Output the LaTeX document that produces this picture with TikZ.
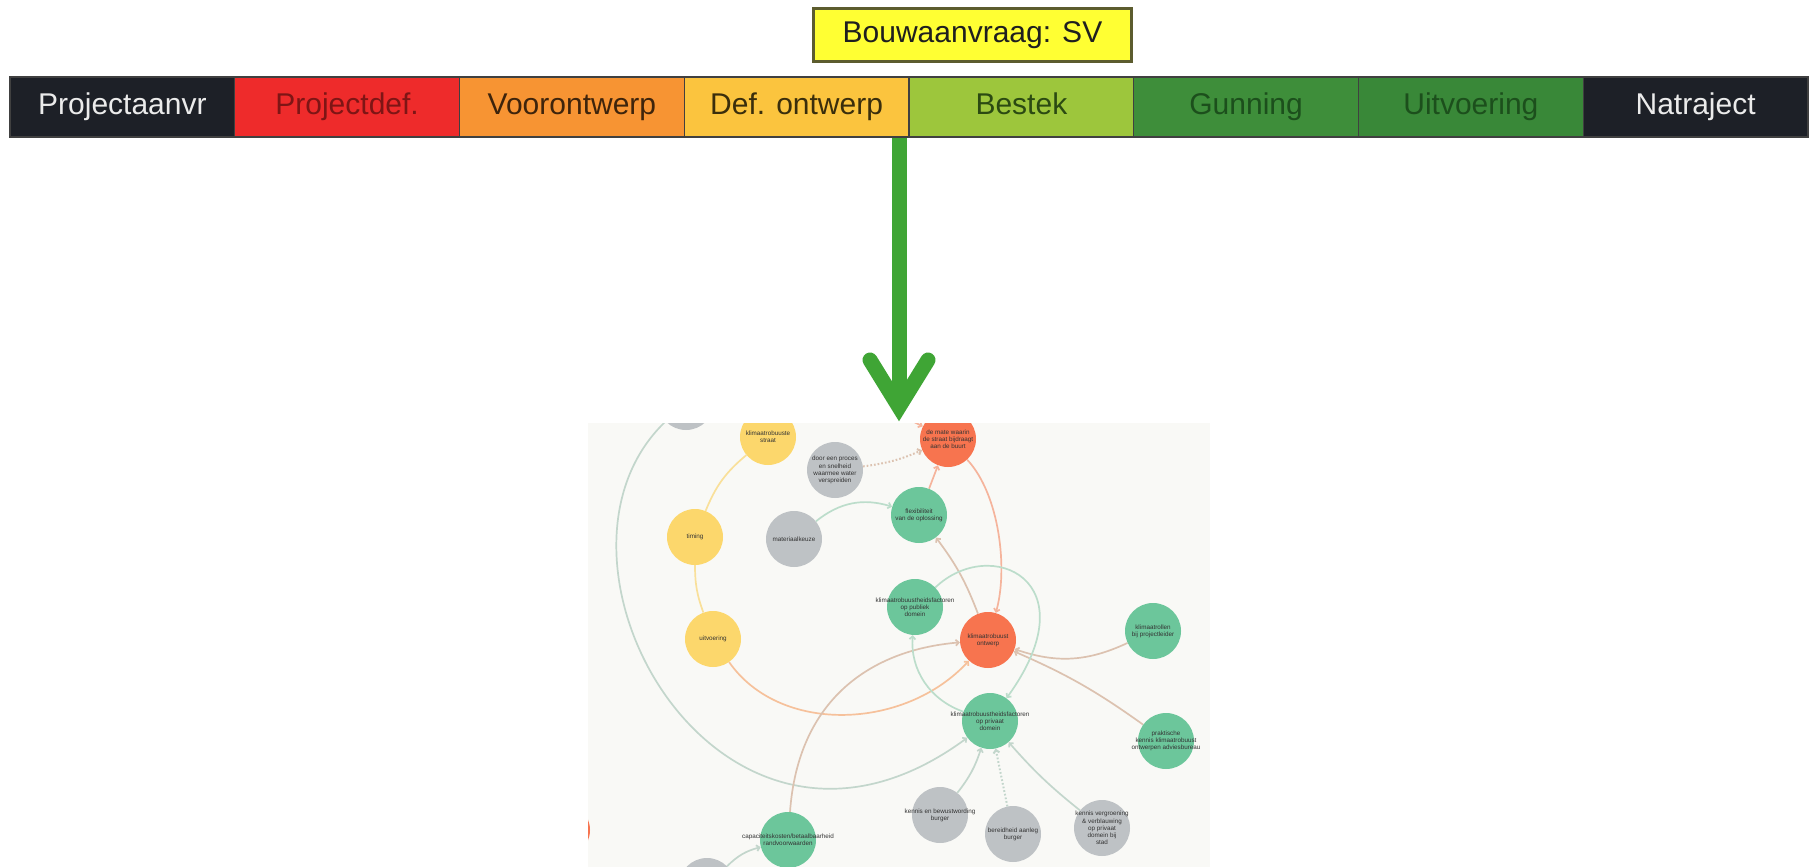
\documentclass[tikz,border=0pt]{standalone}
\usepackage{fontspec}
\setmainfont{Liberation Sans}
\usetikzlibrary{arrows.meta,backgrounds}
\definecolor{cNavy}{HTML}{1D2027}
\definecolor{cRed}{HTML}{EE2B2B}
\definecolor{cOrange}{HTML}{F79433}
\definecolor{cGold}{HTML}{FBC43E}
\definecolor{cLime}{HTML}{9DC63C}
\definecolor{cGreen}{HTML}{3E8E3A}
\definecolor{cGreenB}{HTML}{398838}
\definecolor{cBox}{HTML}{FFFF33}
\definecolor{cBoxLine}{HTML}{5C5C2E}
\definecolor{cArrow}{HTML}{3FA535}
\definecolor{cPanel}{HTML}{F9F9F6}
\definecolor{tRed}{HTML}{7E1515}
\definecolor{tBrown}{HTML}{3E240C}
\definecolor{tGold}{HTML}{3A2E0C}
\definecolor{tLime}{HTML}{2B4A12}
\definecolor{tGreen}{HTML}{1C4F1C}
\definecolor{nYel}{HTML}{FCD76C}
\definecolor{nGry}{HTML}{BEC2C5}
\definecolor{nGrn}{HTML}{6CC69B}
\definecolor{nRed}{HTML}{F7744F}
\definecolor{eGry}{HTML}{C8CBCC}
\definecolor{eGrn}{HTML}{BCDDCB}
\definecolor{eYel}{HTML}{F9E09A}
\definecolor{eOra}{HTML}{F5B49C}
\definecolor{eMix}{HTML}{DCC2B0}
\definecolor{eGG}{HTML}{C3D6CC}
\newcommand\zb[1]{\makebox[0pt]{#1}}
\begin{document}
\begin{tikzpicture}[x=1pt,y=-1pt]
\tikzset{
  cell/.style={draw=black!75, line width=1.2pt, minimum width=224.75pt, minimum height=60pt,
    inner sep=0pt, text height=21pt, text depth=6pt, font=\fontsize{30}{32}\selectfont},
  nd/.style={circle, inner sep=0pt, minimum size=56pt, align=center,
    font=\fontsize{6.3}{7.2}\selectfont, text=black!80},
  ynode/.style={nd, fill=nYel},
  gnode/.style={nd, fill=nGry},
  nnode/.style={nd, fill=nGrn},
  rnode/.style={nd, fill=nRed},
  ed/.style={line width=1.7pt, -{Straight Barb[length=3pt,width=6pt]}},
  edn/.style={line width=1.7pt},
}
\useasboundingbox (0,0) rectangle (1813,867);

% phase bar
\node[cell, fill=cNavy, text=white!92!black] (p1) at (122.4,107) {Projectaanvr};
\node[cell, fill=cRed, text=tRed] (p2) at (347.1,107) {Projectdef.};
\node[cell, fill=cOrange, text=tBrown] (p3) at (571.9,107) {Voorontwerp};
\node[cell, fill=cGold, text=tGold] (p4) at (796.6,107) {Def. ontwerp};
\node[cell, fill=cLime, text=tLime] (p5) at (1021.4,107) {Bestek};
\node[cell, fill=cGreen, text=tGreen] (p6) at (1246.1,107) {Gunning};
\node[cell, fill=cGreenB, text=tGreen] (p7) at (1470.9,107) {Uitvoering};
\node[cell, fill=cNavy, text=white!92!black] (p8) at (1695.6,107) {Natraject};

\node[draw=cBoxLine, line width=3pt, fill=cBox, minimum width=318pt, minimum height=53pt,
  inner sep=0pt, text height=21pt, text depth=6pt, font=\fontsize{30}{32}\selectfont, text=black!88] (bv) at (972.5,35) {Bouwaanvraag: SV};

% big green arrow
\coordinate (arS) at (899,138);
\coordinate (arJ) at (899,407);
\coordinate (arL) at (870,360);
\coordinate (arR) at (928,360);
\draw[cArrow, line width=15pt] (arS) -- (899,398);
\draw[cArrow, line width=15pt, line cap=round, line join=miter, miter limit=10] (arL) -- (arJ) -- (arR);

% graph nodes
\begin{scope}
\clip (588,423) rectangle (1210,867);
\node[gnode] (gtop) at (686,402) {};
\node[ynode] (ys) at (768,437) {klimaatrobuuste\\straat};
\node[gnode] (gd) at (835,470) {door een proces\\en snelheid\\waarmee water\\verspreiden};
\node[ynode] (yt) at (695,537) {timing};
\node[gnode] (gm) at (794,539) {materiaalkeuze};
\node[ynode] (yu) at (713,639) {uitvoering};
\node[rnode] (rm) at (948,439) {de mate waarin\\\zb{de straat bijdraagt}\\aan de buurt};
\node[nnode] (gf) at (919,515) {flexibiliteit\\\zb{van de oplossing}};
\node[nnode] (gpub) at (915,607) {\zb{klimaatrobuustheidsfactoren}\\op publiek\\domein};
\node[rnode] (rk) at (988,640) {klimaatrobuust\\ontwerp};
\node[nnode] (gkp) at (1153,631) {klimaatrollen\\\zb{bij projectleider}};
\node[nnode] (gpriv) at (990,721) {\zb{klimaatrobuustheidsfactoren}\\op privaat\\domein};
\node[nnode] (gprak) at (1166,741) {praktische\\\zb{kennis klimaatrobuust}\\\zb{ontwerpen adviesbureau}};
\node[gnode] (gk1) at (940,815) {\zb{kennis en bewustwording}\\burger};
\node[gnode] (gk2) at (1013,834) {\zb{bereidheid aanleg}\\burger};
\node[gnode] (gk3) at (1102,828) {\zb{kennis vergroening}\\\& verblauwing\\op privaat\\domein bij\\stad};
\node[nnode] (gcap) at (788,840) {\zb{capaciteitskosten/betaalbaarheid}\\\zb{randvoorwaarden}};
\node[gnode] (gbot) at (707,886) {};
\node[rnode] (rleft) at (562,830) {};
\coordinate (topin) at (880,405);
\end{scope}

% panel and connectors behind the nodes
\begin{pgfonlayer}{background}
\fill[white] (0,0) rectangle (1813,867);
\fill[cPanel] (588,423) rectangle (1210,867);
\begin{scope}
\clip (588,423) rectangle (1210,867);
\draw[edn, eGry] (gtop) to[bend left=10] (ys);
\draw[ed, eGG] (gtop) .. controls (520,560) and (720,920) .. (gpriv);
\draw[edn, eYel] (ys) to[bend right=14] (yt);
\draw[edn, eYel] (yt) to[bend right=10] (yu);
\draw[ed, eOra!70!eYel] (yu) .. controls (780,735) and (905,730) .. (rk);
\draw[ed, eMix, dotted, line width=2pt] (gd) to[bend right=8] (rm);
\draw[ed, eGrn] (gm) to[bend left=28] (gf);
\draw[ed, eOra] (gf) -- (rm);
\draw[ed, eOra] (topin) -- (rm);
\draw[ed, eOra] (rm) .. controls (1000,495) and (1008,570) .. (rk);
\draw[ed, eMix] (rk) to[bend right=8] (gf);
\draw[ed, eMix] (gcap) .. controls (798,700) and (870,650) .. (rk);
\draw[ed, eMix] (gkp) to[bend left=22] (rk);
\draw[ed, eMix] (gprak) to[bend right=6] (rk);
\draw[ed, eGrn] (gpub) .. controls (990,535) and (1092,580) .. (gpriv);
\draw[ed, eGrn] (gpriv) .. controls (930,700) and (910,670) .. (gpub);
\draw[ed, eGG] (gk1) to[bend right=10] (gpriv);
\draw[ed, eGG, dotted, line width=2pt] (gk2) -- (gpriv);
\draw[ed, eGG] (gk3) to[bend left=5] (gpriv);
\draw[ed, eGG] (gbot) to[bend left=15] (gcap);
\end{scope}
\end{pgfonlayer}
\end{tikzpicture}
\end{document}
